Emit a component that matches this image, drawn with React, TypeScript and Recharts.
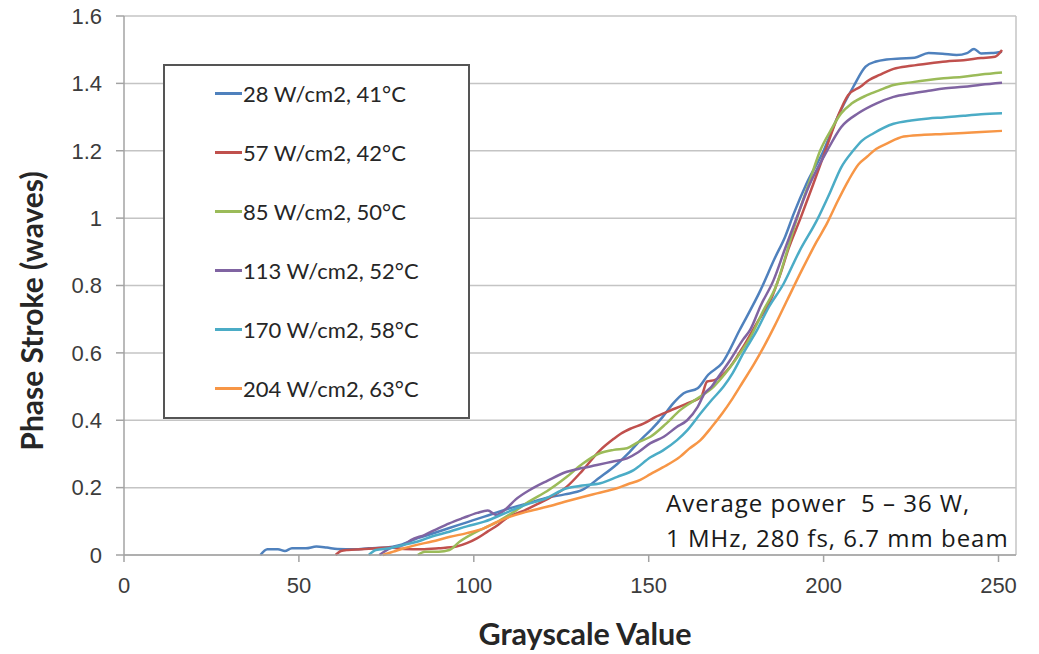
import React from 'react';
import { LineChart, Line, XAxis, YAxis, CartesianGrid, Legend, ReferenceLine } from 'recharts';

const xTicks = [0, 50, 100, 150, 200, 250];
const yTicks = [0, 0.2, 0.4, 0.6, 0.8, 1, 1.2, 1.4, 1.6];

const seriesNames = [
  '28 W/cm2, 41°C',
  '57 W/cm2, 42°C',
  '85 W/cm2, 50°C',
  '113 W/cm2, 52°C',
  '170 W/cm2, 58°C',
  '204 W/cm2, 63°C',
];
const seriesColors = ['#4F81BD', '#C0504D', '#9BBB59', '#8064A2', '#4BACC6', '#F79646'];

const xTitle = 'Grayscale Value';
const yTitle = 'Phase Stroke (waves)';
const noteLines = ['Average power  5 – 36 W,', '1 MHz, 280 fs, 6.7 mm beam'];

// [grayscale value, phase stroke]
const s28: number[][] = [
  [39, 0], [41, 0.017], [44, 0.017], [46, 0.012], [48, 0.02], [52, 0.02], [55, 0.025], [58, 0.022], [61, 0.018], [66, 0.017],
  [70, 0.02], [75, 0.022], [79, 0.03], [84, 0.05], [88, 0.063], [93, 0.08], [98, 0.097], [103, 0.114], [110, 0.138], [116, 0.155],
  [121, 0.17], [126, 0.18], [131, 0.193], [136, 0.23], [141, 0.27], [144, 0.3], [148, 0.345], [151, 0.375], [154, 0.41], [157, 0.45],
  [160, 0.48], [164, 0.495], [167, 0.535], [171, 0.57], [176, 0.668], [182, 0.787], [186, 0.88], [189, 0.945], [191.5, 1.014], [195, 1.1],
  [200, 1.2], [204, 1.3], [208.5, 1.39], [212, 1.45], [215, 1.465], [218, 1.471], [222, 1.474], [226, 1.476], [230, 1.49], [234, 1.488],
  [238, 1.484], [241, 1.49], [243, 1.502], [245, 1.489], [248, 1.49], [251, 1.494],
];
const s57: number[][] = [
  [60.5, 0], [62, 0.012], [64, 0.015], [68, 0.017], [72, 0.02], [76, 0.022], [80, 0.018], [85, 0.017], [90, 0.02], [95, 0.025],
  [98, 0.035], [101, 0.05], [104, 0.07], [107, 0.09], [110, 0.114], [114, 0.13], [118, 0.15], [122, 0.172], [126.6, 0.203], [131, 0.25],
  [136, 0.31], [140, 0.345], [142, 0.36], [145, 0.376], [148.5, 0.39], [152, 0.41], [156, 0.428], [161, 0.45], [165, 0.47], [166.7, 0.515],
  [169, 0.52], [173.3, 0.559], [177, 0.618], [181, 0.69], [185, 0.76], [187.5, 0.83], [190, 0.91], [193.4, 1.0], [197, 1.1], [200.5, 1.2],
  [204, 1.3], [207, 1.365], [210.5, 1.39], [213, 1.41], [216, 1.425], [220, 1.443], [225, 1.452], [230, 1.459], [235, 1.465], [240, 1.469],
  [245, 1.475], [249, 1.479], [251, 1.499],
];
const s85: number[][] = [
  [84, 0], [86, 0.01], [90, 0.01], [93, 0.015], [96, 0.04], [100, 0.065], [103, 0.08], [107, 0.1], [111, 0.125], [116, 0.16],
  [121, 0.19], [126.6, 0.232], [131, 0.27], [136, 0.302], [140, 0.312], [143.8, 0.317], [147, 0.335], [150.5, 0.351], [155, 0.39], [159, 0.43],
  [164, 0.465], [168.6, 0.5], [172, 0.54], [176.2, 0.6], [179, 0.645], [182.5, 0.72], [186.7, 0.806], [189.5, 0.9], [192.4, 1.0], [196, 1.11],
  [199, 1.2], [202, 1.26], [205, 1.311], [208, 1.34], [212.4, 1.365], [216, 1.38], [220, 1.395], [225, 1.403], [230, 1.41], [234.3, 1.415],
  [240, 1.42], [245, 1.426], [251, 1.432],
];
const s113: number[][] = [
  [73, 0], [76, 0.02], [80, 0.03], [82, 0.044], [86, 0.06], [90, 0.08], [93, 0.094], [97, 0.11], [101, 0.125], [104, 0.132],
  [106.4, 0.119], [109, 0.135], [112, 0.165], [116, 0.193], [121, 0.22], [126.6, 0.247], [131, 0.258], [135.2, 0.267], [139.5, 0.277], [143.8, 0.287],
  [147, 0.305], [150.5, 0.332], [154.3, 0.351], [158, 0.38], [161, 0.4], [164, 0.44], [166, 0.48], [168, 0.5], [170, 0.53], [173.3, 0.579],
  [177, 0.64], [179, 0.668], [182, 0.74], [185.7, 0.816], [189, 0.91], [192.4, 1.004], [196, 1.1], [201, 1.2], [205, 1.27], [210, 1.312],
  [215, 1.34], [220, 1.36], [225, 1.37], [230, 1.378], [234.3, 1.385], [240, 1.39], [245, 1.396], [251, 1.402],
];
const s170: number[][] = [
  [70, 0], [72, 0.015], [76, 0.02], [80, 0.03], [84, 0.04], [88, 0.055], [93, 0.069], [98, 0.085], [103, 0.099], [110, 0.129],
  [115, 0.15], [120, 0.165], [126.6, 0.198], [131, 0.206], [136.2, 0.213], [141, 0.232], [145.7, 0.252], [150.5, 0.29], [154, 0.31], [158.1, 0.341],
  [161, 0.37], [164.8, 0.42], [168, 0.46], [171.4, 0.5], [174, 0.54], [177.1, 0.6], [181, 0.668], [184, 0.73], [188.6, 0.806], [193, 0.9],
  [198.1, 0.994], [202, 1.08], [205, 1.15], [208.6, 1.202], [211, 1.23], [214.3, 1.252], [220, 1.28], [225, 1.29], [230, 1.296], [234.3, 1.299],
  [240, 1.304], [245, 1.308], [251, 1.311],
];
const s204: number[][] = [
  [74, 0], [77, 0.01], [80, 0.02], [83.7, 0.03], [88, 0.04], [93.2, 0.054], [98, 0.065], [102.8, 0.079], [106, 0.095], [110.4, 0.114],
  [115, 0.128], [120.9, 0.143], [126, 0.158], [131.4, 0.173], [135.2, 0.183], [140.9, 0.198], [144, 0.21], [147.6, 0.223], [150.5, 0.24], [154, 0.26],
  [159, 0.292], [161.5, 0.315], [164.8, 0.341], [168, 0.38], [171, 0.42], [174, 0.465], [177, 0.515], [180, 0.565], [183, 0.62], [186, 0.68],
  [189.6, 0.757], [194, 0.85], [198, 0.93], [201, 0.985], [204, 1.05], [207, 1.11], [210, 1.16], [212.4, 1.182], [215, 1.205],
  [218.2, 1.222], [222.9, 1.242], [228, 1.247], [234.3, 1.25], [240, 1.253], [245, 1.256], [251, 1.259],
];

const seriesPoints = [s28, s57, s85, s113, s170, s204];

const toRows = (pts: number[][]) => pts.map(([x, y]) => ({ x, y }));

const W = 1039;
const H = 654;
const AXIS_GRAY = '#A3A3A3';
const GRID_GRAY = '#C4C4C4';
const TICK_TEXT = '#3C3C3C';
const TITLE_TEXT = '#262626';

const renderLegend = () => (
  <div
    style={{
      width: 307,
      height: 355,
      boxSizing: 'border-box',
      border: '2px solid #555555',
      background: '#fff',
      position: 'relative',
    }}
  >
    {seriesNames.map((name, i) => (
      <div
        key={name}
        style={{
          position: 'absolute',
          left: 50,
          top: 27.5 + 59 * i - 15,
          height: 30,
          display: 'flex',
          alignItems: 'center',
          whiteSpace: 'nowrap',
        }}
      >
        <span style={{ display: 'inline-block', width: 27, height: 2.5, background: seriesColors[i] }} />
        <span
          style={{
            fontFamily: 'Lato, sans-serif',
            fontSize: 22,
            color: TITLE_TEXT,
            marginLeft: 1,
            lineHeight: '30px',
          }}
        >
          {name}
        </span>
      </div>
    ))}
  </div>
);

const renderYTitle = () => (
  <text
    x={43}
    y={311}
    transform="rotate(-90 43 311)"
    textAnchor="middle"
    style={{ fontFamily: 'Lato, sans-serif', fontWeight: 700, fontSize: 30, fill: TITLE_TEXT }}
  >
    {yTitle}
  </text>
);

const renderXTitle = () => (
  <text
    x={585}
    y={645}
    textAnchor="middle"
    style={{ fontFamily: 'Lato, sans-serif', fontWeight: 700, fontSize: 30.5, fill: TITLE_TEXT }}
  >
    {xTitle}
  </text>
);

export default function App() {
  return (
    <div style={{ position: 'absolute', left: 0, top: 0, width: W, height: H, background: '#fff' }}>
      <LineChart width={W} height={H} margin={{ top: 16, right: 23, bottom: 49, left: 44 }}>
        <CartesianGrid vertical={false} stroke={GRID_GRAY} strokeWidth={1.5} />
        <XAxis
          dataKey="x"
          type="number"
          domain={[0, 255]}
          ticks={xTicks}
          allowDuplicatedCategory={false}
          height={50}
          tickSize={7}
          tickMargin={15}
          stroke={AXIS_GRAY}
          strokeWidth={1.5}
          tick={{ fontFamily: '"Liberation Sans", Arial, sans-serif', fontSize: 22, fill: TICK_TEXT }}
          label={renderXTitle}
        />
        <YAxis
          type="number"
          domain={[0, 1.6]}
          ticks={yTicks}
          width={80}
          tickSize={8}
          tickMargin={14}
          stroke={AXIS_GRAY}
          strokeWidth={1.5}
          tick={{ fontFamily: '"Liberation Sans", Arial, sans-serif', fontSize: 22, fill: TICK_TEXT }}
          label={renderYTitle}
        />
        <ReferenceLine x={255} stroke={GRID_GRAY} strokeWidth={1.5} ifOverflow="extendDomain" />
        {seriesPoints.map((pts, i) => (
          <Line
            key={seriesNames[i]}
            data={toRows(pts)}
            dataKey="y"
            name={seriesNames[i]}
            type="monotone"
            stroke={seriesColors[i]}
            strokeWidth={2.5}
            dot={false}
            activeDot={false}
            isAnimationActive={false}
          />
        ))}
        <Legend
          layout="vertical"
          align="center"
          verticalAlign="middle"
          content={renderLegend}
          wrapperStyle={{ left: 163, top: 64, width: 307, height: 355 }}
        />
      </LineChart>
      <svg
        width={W}
        height={H}
        style={{ position: 'absolute', left: 0, top: 0, pointerEvents: 'none' }}
      >
        {noteLines.map((line, i) => (
          <text
            key={line}
            x={666}
            y={511.5 + 35 * i}
            style={{
              fontFamily: '"Open Sans", sans-serif',
              fontSize: 24,
              letterSpacing: 1,
              fill: '#1A1A1A',
              whiteSpace: 'pre',
            }}
          >
            {line}
          </text>
        ))}
      </svg>
    </div>
  );
}
